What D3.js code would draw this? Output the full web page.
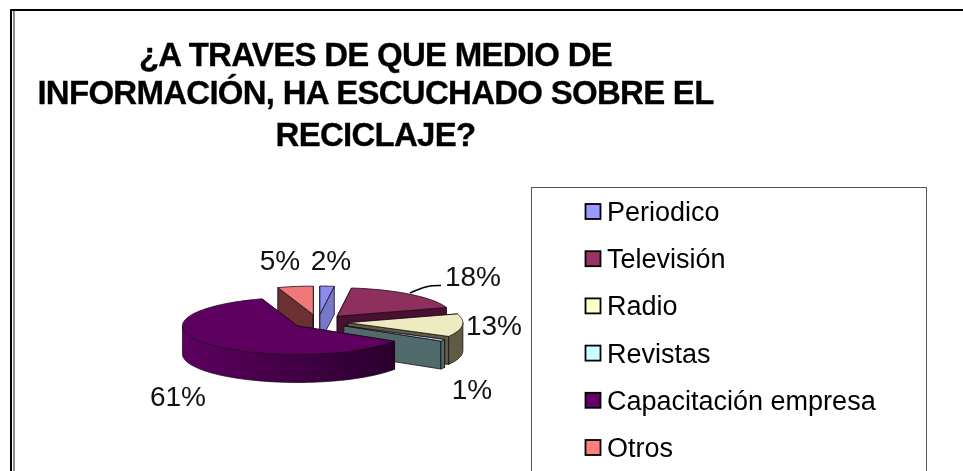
<!DOCTYPE html>
<html><head><meta charset="utf-8">
<script src="https://cdnjs.cloudflare.com/ajax/libs/d3/7.8.5/d3.min.js"></script>
<style>html,body{margin:0;padding:0;background:#fff}svg{display:block;filter:blur(0.45px)}</style></head>
<body><svg id="c" width="963" height="471"></svg>
<script>
const titleLines = ["¿A TRAVES DE QUE MEDIO DE","INFORMACIÓN, HA ESCUCHADO SOBRE EL","RECICLAJE?"];
const categories = ["Periodico","Televisión","Radio","Revistas","Capacitación empresa","Otros"];
const values = [2,18,13,1,61,5];
const legendColors = ["#9999ff","#993366","#ffffcc","#ccffff","#660066","#ff8080"];
const topColors = ["#8c8cee","#8e2f5e","#ececc0","#bfeeee","#5f0060","#f07878"];
const wallStart = ["#6f6fc0","#4a1030","#77735a","#4f6b6b","#5e0060","#6b3030"];
const wallEnd = ["#6f6fc0","#4a1030","#5f5c44","#4f6b6b","#28002c","#6b3030"];
const faceColors = ["#7777cc","#4a1030","#5f5c44","#4f6b6b","#3a003c","#6b3030"];
const explodeBy = [30,30,30,30,26,30];
const drawOrder = [5,0,1,2,3,4];
const labelText = values.map(v=>v+"%");
const labelPos = [[331,270],[473,286],[494,335],[472,399],[178,406],[280,270]];

const W=963,H=471;
const svg=d3.select("#c");
const defs=svg.append("defs");
// page frames: top and left rules only
svg.append("path").attr("d","M11,471V10H963").attr("fill","none").attr("stroke","#000").attr("stroke-width",2);
svg.append("path").attr("d","M14,471V11").attr("fill","none").attr("stroke","#666").attr("stroke-width",1.5);

// title
svg.append("g").selectAll("text").data(titleLines).join("text")
 .attr("x",375.5).attr("y",(d,i)=>[66,104,146][i]).attr("text-anchor","middle")
 .attr("font-family","Liberation Sans").attr("font-weight","bold").attr("font-size",33).attr("letter-spacing",-0.73)
 .attr("fill","#000").attr("stroke","#000").attr("stroke-width",0.3).text(d=>d);

// legend
svg.append("rect").attr("x",531.5).attr("y",187.5).attr("width",395).attr("height",300).attr("fill","#fff").attr("stroke","#555").attr("stroke-width",1);
const rowY=d3.scalePoint().domain(categories).range([211.5,447.5]);
const leg=svg.append("g").selectAll("g").data(categories).join("g").attr("transform",d=>`translate(0,${rowY(d)})`);
leg.append("rect").attr("x",585.5).attr("y",-7.5).attr("width",15).attr("height",15)
 .attr("fill",(d,i)=>legendColors[i]).attr("stroke","#000").attr("stroke-width",1.8);
leg.append("text").attr("x",607).attr("y",9.5).attr("font-family","Liberation Sans").attr("font-size",27).attr("fill","#000").text(d=>d);

// pie
const cx=318,cy=322,R=115,Rk=28.5,depth=28;
const xs=d3.scaleLinear().domain([-1,1]).range([-R,R]);
const ys=d3.scaleLinear().domain([-1,1]).range([-Rk,Rk]);
const arcs=d3.pie().sort(null).value(d=>d)(values);
const line=d3.line();
function pt(o,a,r,dz){return [o[0]+xs(Math.sin(a)*r),o[1]+ys(-Math.cos(a)*r)+dz];}
function arcPts(o,a0,a1,dz){const n=Math.max(2,Math.ceil((a1-a0)/0.02));return d3.range(n+1).map(i=>pt(o,a0+(a1-a0)*i/n,1,dz));}
const g=svg.append("g").attr("stroke","#1a0a1a").attr("stroke-width",0.8).attr("stroke-linejoin","round");
drawOrder.forEach(i=>{
 const a=arcs[i],mid=(a.startAngle+a.endAngle)/2;
 const o=[cx+xs(Math.sin(mid))*explodeBy[i]/R, cy+ys(-Math.cos(mid))*explodeBy[i]/R];
 const id="w"+i;
 const lg=defs.append("linearGradient").attr("id",id).attr("gradientUnits","userSpaceOnUse")
  .attr("x1",o[0]-R).attr("x2",o[0]+R*0.85).attr("y1",0).attr("y2",0);
 lg.append("stop").attr("offset",0).attr("stop-color",wallStart[i]);
 lg.append("stop").attr("offset",1).attr("stop-color",wallEnd[i]);
 [a.startAngle,a.endAngle].forEach(t=>{
  g.append("path").attr("fill",faceColors[i]).attr("d",line([o,pt(o,t,1,0),pt(o,t,1,depth),[o[0],o[1]+depth]])+"Z");
 });
 const w0=Math.max(a.startAngle,Math.PI/2),w1=Math.min(a.endAngle,Math.PI*1.5);
 if(w1>w0){
  const top=arcPts(o,w0,w1,0),bot=arcPts(o,w0,w1,depth).reverse();
  g.append("path").attr("fill",`url(#${id})`).attr("d",line(top.concat(bot))+"Z");
 }
 g.append("path").attr("fill",topColors[i]).attr("d",line([o].concat(arcPts(o,a.startAngle,a.endAngle,0)))+"Z");
});

// leader line
svg.append("path").attr("fill","none").attr("stroke","#000").attr("stroke-width",1.6)
 .attr("d",d3.line().curve(d3.curveBasis)([[410,293],[424,287],[432,285.5],[441,285.5]]));

// data labels
svg.append("g").selectAll("text").data(labelText).join("text")
 .attr("x",(d,i)=>labelPos[i][0]).attr("y",(d,i)=>labelPos[i][1]).attr("text-anchor","middle")
 .attr("font-family","Liberation Sans").attr("font-size",28).attr("fill","#111").text(d=>d);
</script></body></html>
